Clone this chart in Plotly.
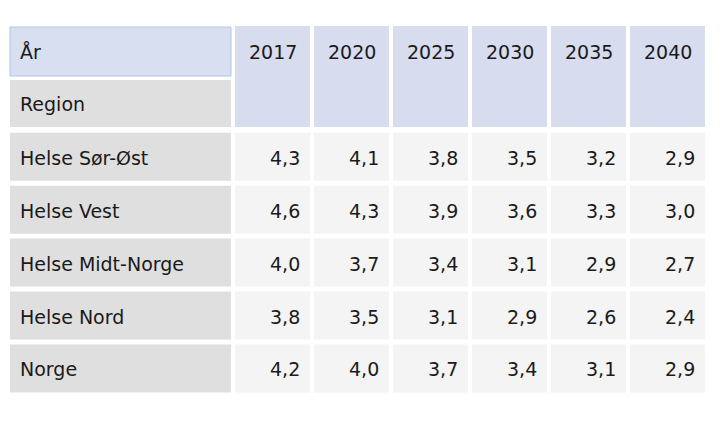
import plotly.graph_objects as go

# ---- data ----
years = ["2017", "2020", "2025", "2030", "2035", "2040"]
regions = ["Helse Sør-Øst", "Helse Vest", "Helse Midt-Norge", "Helse Nord", "Norge"]
v_sor_ost = [4.3, 4.1, 3.8, 3.5, 3.2, 2.9]
v_vest = [4.6, 4.3, 3.9, 3.6, 3.3, 3.0]
v_midt = [4.0, 3.7, 3.4, 3.1, 2.9, 2.7]
v_nord = [3.8, 3.5, 3.1, 2.9, 2.6, 2.4]
v_norge = [4.2, 4.0, 3.7, 3.4, 3.1, 2.9]
values = [v_sor_ost, v_vest, v_midt, v_nord, v_norge]
header_year_label = "År"
header_region_label = "Region"

# ---- layout constants (page has an 8px body margin) ----
W, H = 728, 433
PAGE_M = 8
label_x0, label_x1 = 10, 231
col_x0, col_pitch, col_w = 235, 79.0, 75
head_top = 27
row_pitch = 52.9
row_h = 48
FONT = "DejaVu Sans"
FS = 19
TXT = "#1a1a1a"

C_AAR = "#d7dff1"
C_AAR_BORDER = "#b3c5e6"
C_YEAR = "#d8dcef"
C_LABEL = "#dfdfdf"
C_VAL = "#f4f4f4"

shapes = []
ann = []

def rect(x0, y0, x1, y1, fill, line=None):
    shapes.append(dict(type="rect", xref="x", yref="y", x0=x0, x1=x1, y0=y0, y1=y1,
                       fillcolor=fill, line=dict(width=1 if line else 0, color=line or fill),
                       layer="below"))

def text(x, y, s, anchor):
    ann.append(dict(x=x, y=y, xref="x", yref="y", text=s, showarrow=False,
                    xanchor=anchor, yanchor="middle",
                    font=dict(family=FONT, size=FS, color=TXT)))

def row_top(i):
    return head_top + i * row_pitch

# header: År / Region
rect(label_x0, row_top(0), label_x1, row_top(0) + row_h + 1, C_AAR, C_AAR_BORDER)
text(label_x0 + 8, row_top(0) + row_h / 2 + 1, header_year_label, "left")
rect(label_x0, row_top(1), label_x1, row_top(1) + row_h - 1, C_LABEL)
text(label_x0 + 8, row_top(1) + row_h / 2, header_region_label, "left")

# year headers spanning two rows
for j, yr in enumerate(years):
    x0 = col_x0 + j * col_pitch
    rect(x0, row_top(0) - 1, x0 + col_w, row_top(1) + row_h - 1, C_YEAR)
    text(x0 + col_w / 2, row_top(0) + row_h / 2 + 1, yr, "center")

# body rows
for i, (reg, vals) in enumerate(zip(regions, values)):
    top = row_top(i + 2)
    rect(label_x0, top, label_x1, top + row_h, C_LABEL)
    text(label_x0 + 8, top + row_h / 2 + 1, reg, "left")
    for j, v in enumerate(vals):
        x0 = col_x0 + j * col_pitch
        rect(x0, top, x0 + col_w, top + row_h, C_VAL)
        text(x0 + col_w - 8, top + row_h / 2 + 1, f"{v:.1f}".replace(".", ","), "right")

fig = go.Figure()
fig.add_trace(go.Scatter(x=[PAGE_M, W - PAGE_M], y=[PAGE_M, H - PAGE_M], mode="markers",
                         marker=dict(opacity=0), hoverinfo="skip", showlegend=False))
fig.update_layout(
    width=W - 2 * PAGE_M, height=H - 2 * PAGE_M, margin=dict(l=0, r=0, t=0, b=0),
    paper_bgcolor="white", plot_bgcolor="white",
    xaxis=dict(range=[PAGE_M, W - PAGE_M], visible=False, fixedrange=True),
    yaxis=dict(range=[H - PAGE_M, PAGE_M], visible=False, fixedrange=True),
    shapes=shapes, annotations=ann, showlegend=False,
)
fig.write_html("out.html", config={"displayModeBar": False})
